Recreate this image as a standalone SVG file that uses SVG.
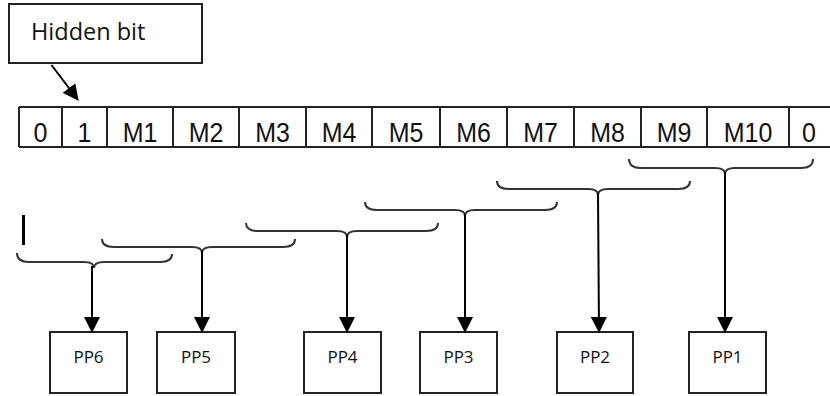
<svg xmlns="http://www.w3.org/2000/svg" width="830" height="396" viewBox="0 0 830 396">
  <defs>
    <marker id="arrowhead" markerUnits="userSpaceOnUse" markerWidth="16" markerHeight="16" viewBox="0 0 16 16" refX="15" refY="8" orient="auto">
      <path d="M0,0 L16,8 L0,16 Z" fill="#000"/>
    </marker>
    <style>
      .box { fill: #fff; stroke: #222; stroke-width: 2; }
      .cell { fill: none; stroke: #222; stroke-width: 2; }
      .celltext { font-family: "Liberation Sans", Arial, sans-serif; font-size: 25px; fill: #111; text-anchor: middle; }
      .note { font-family: "Open Sans", "Noto Sans", sans-serif; font-size: 23.5px; fill: #111; }
      .pp { font-family: "Open Sans", "Noto Sans", sans-serif; font-size: 17px; fill: #111; text-anchor: middle; }
      .brace { fill: none; stroke: #333; stroke-width: 2; }
      .stem { fill: none; stroke: #000; stroke-width: 2; marker-end: url(#arrowhead); }
    </style>
  </defs>

  <rect width="830" height="396" fill="#fff"/>

  <!-- callout box -->
  <g id="hidden-bit">
    <rect class="box" x="9" y="4" width="193" height="59"/>
    <text class="note" x="31" y="39.5">Hidden bit</text>
  </g>

  <!-- mantissa register; labels are slightly stretched vertically -->
  <g id="register">
    <path class="cell" d="M19,107 H831 M19,147 H831 M19,107 V147 M62,107 V147 M107,107 V147 M173,107 V147 M239,107 V147 M306,107 V147 M372,107 V147 M440,107 V147 M507,107 V147 M574,107 V147 M641,107 V147 M707,107 V147 M789,107 V147"/>
    <g transform="translate(0,142) scale(1,1.1)">
      <text class="celltext" x="40.5" y="0">0</text>
      <text class="celltext" x="84.5" y="0">1</text>
      <text class="celltext" x="140" y="0">M1</text>
      <text class="celltext" x="206" y="0">M2</text>
      <text class="celltext" x="272.5" y="0">M3</text>
      <text class="celltext" x="339" y="0">M4</text>
      <text class="celltext" x="406" y="0">M5</text>
      <text class="celltext" x="473.5" y="0">M6</text>
      <text class="celltext" x="540.5" y="0">M7</text>
      <text class="celltext" x="607.5" y="0">M8</text>
      <text class="celltext" x="674" y="0">M9</text>
      <text class="celltext" x="748" y="0">M10</text>
      <text class="celltext" x="809" y="0">0</text>
    </g>
  </g>

  <!-- partial product boxes -->
  <g id="pp6"><rect class="box" x="50" y="332" width="77" height="61"/><text class="pp" x="88.5" y="363">PP6</text></g>
  <g id="pp5"><rect class="box" x="157" y="332" width="78" height="61"/><text class="pp" x="196" y="363">PP5</text></g>
  <g id="pp4"><rect class="box" x="304" y="332" width="77" height="61"/><text class="pp" x="342.5" y="363">PP4</text></g>
  <g id="pp3"><rect class="box" x="420" y="332" width="77" height="61"/><text class="pp" x="458.5" y="363">PP3</text></g>
  <g id="pp2"><rect class="box" x="557" y="332" width="76" height="61"/><text class="pp" x="595" y="363">PP2</text></g>
  <g id="pp1"><rect class="box" x="689" y="332" width="77" height="61"/><text class="pp" x="727.5" y="363">PP1</text></g>

  <!-- stray cursor mark -->
  <rect x="22" y="215" width="3" height="30" fill="#000"/>

  <!-- braces grouping the bits and arrows to the partial products -->
  <g id="connectors">
    <line class="stem" x1="51.5" y1="65" x2="78" y2="100"/>

    <path class="brace" d="M629,159 Q629,168 641,168 L715,168 Q725,168 725,174 Q725,168 735,168 L801,168 Q813,168 813,159"/>
    <line class="stem" x1="725" y1="172" x2="725" y2="332"/>

    <path class="brace" d="M497,181 Q497,189 509,189 L588,189 Q598,189 598,195 Q598,189 608,189 L678,189 Q690,189 690,181"/>
    <line class="stem" x1="598" y1="193" x2="599" y2="332"/>

    <path class="brace" d="M365,202 Q365,210 377,210 L455,210 Q465,210 465,216 Q465,210 475,210 L545,210 Q557,210 557,202"/>
    <line class="stem" x1="465" y1="214" x2="465" y2="332"/>

    <path class="brace" d="M246,223 Q246,231 258,231 L337,231 Q347,231 347,237 Q347,231 357,231 L426,231 Q438,231 438,223"/>
    <line class="stem" x1="347" y1="235" x2="347" y2="332"/>

    <path class="brace" d="M102,239 Q102,247 114,247 L192,247 Q202,247 202,253 Q202,247 212,247 L283,247 Q295,247 295,239"/>
    <line class="stem" x1="202" y1="251" x2="202" y2="332"/>

    <path class="brace" d="M17,253 Q17,262 29,262 L84,262 Q94,262 94,268 Q94,262 104,262 L160,262 Q172,262 172,254"/>
    <line class="stem" x1="92" y1="266" x2="92" y2="332"/>
  </g>
</svg>
